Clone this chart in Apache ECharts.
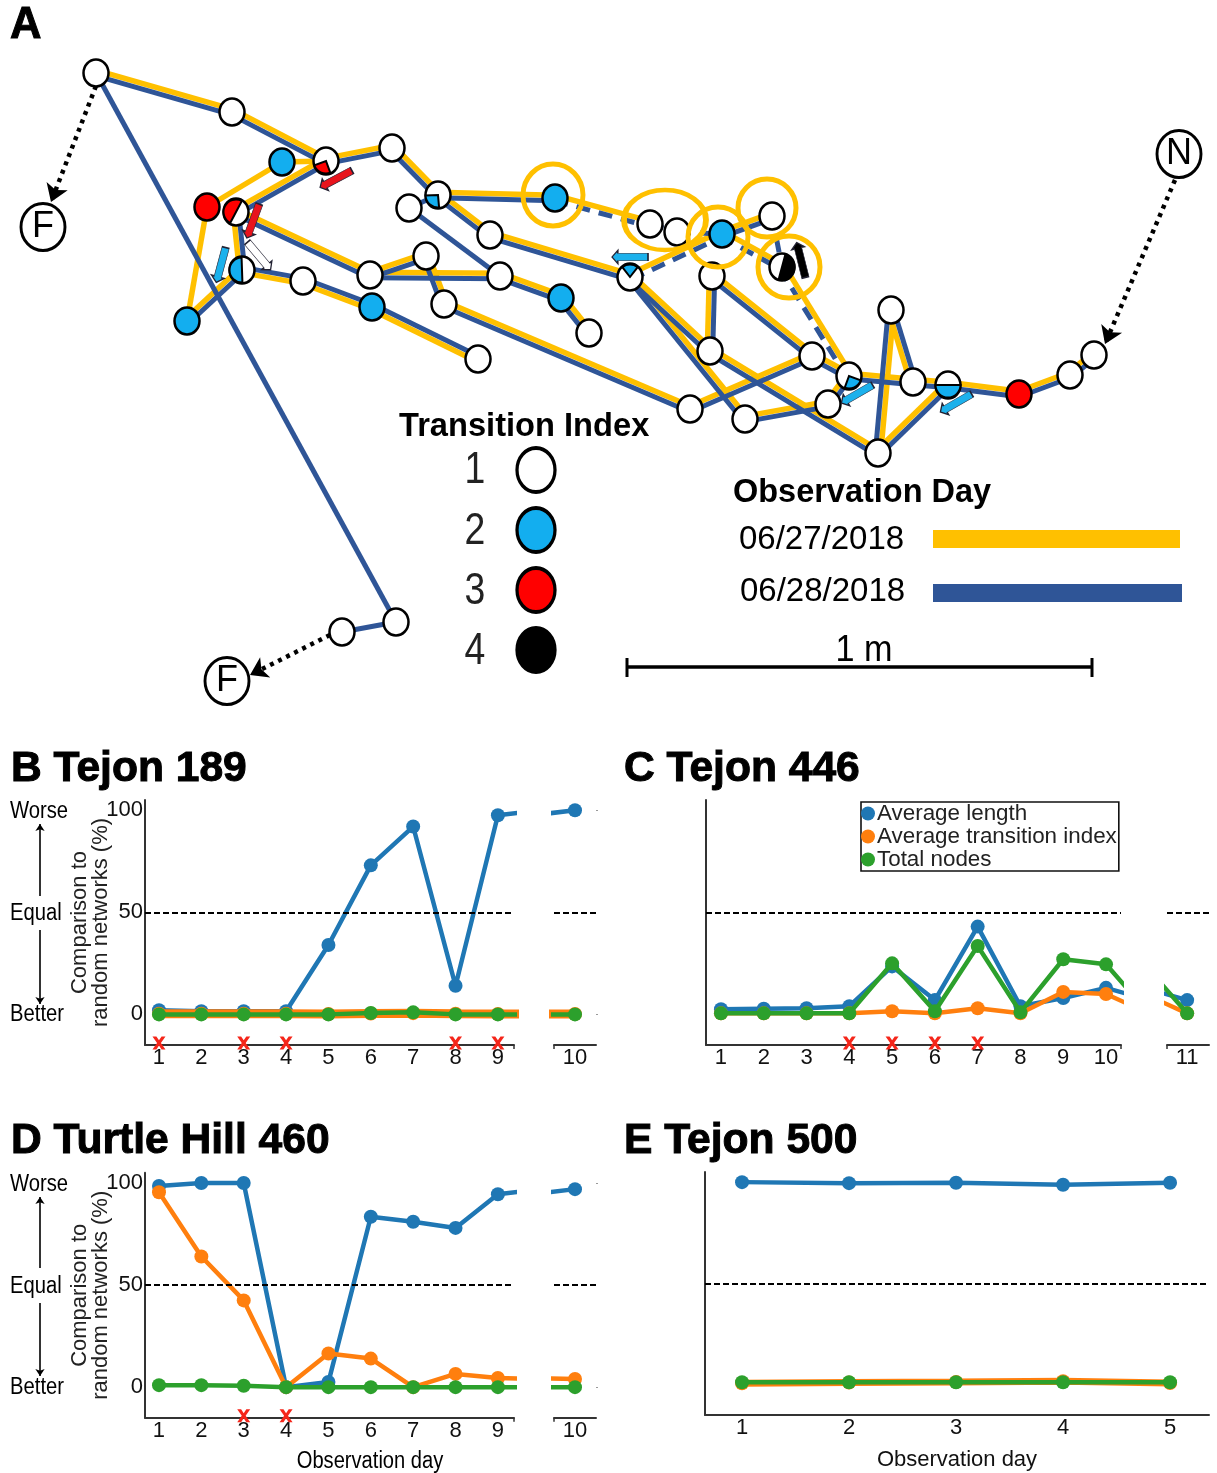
<!DOCTYPE html>
<html><head><meta charset="utf-8">
<style>html,body{margin:0;padding:0;background:#fff}#c{width:1217px;height:1473px}</style>
<script src="https://cdn.jsdelivr.net/npm/echarts@6/dist/echarts.min.js"></script>
</head><body><div id="c"></div>
<script>
// ---------- Panel A data: positions on the ground, read in picture units ----------
// kind: 1 white, 2 cyan, 3 red, 4 black
const nodes = [null,
 [96,73,1],[232,112,1],[326,161,1],[282,162,2],[392,148,1],[207,207,3],[236,212,1],[438,195,1],[409,208,1],
 [555,198,2],[490,235,1],[650,224,1],[677,232,1],[722,234,2],[772,216,1],[782,267,1],[242,270,1],[187,321,2],
 [303,281,1],[372,307,2],[370,275,1],[426,256,1],[500,276,1],[444,304,1],[561,298,2],[589,333,1],[478,359,1],
 [630,277,1],[712,276,1],[710,351,1],[812,356,1],[849,376,1],[828,404,1],[913,382,1],[948,385,1],[891,310,1],
 [878,453,1],[1019,394,3],[1070,375,1],[1094,355,1],[690,409,1],[745,419,1],[396,622,1],[342,632,1]];
const day1Edges = [[1,2],[2,3],[3,5],[4,3],[6,4],[18,6],[7,3],[17,7],[18,17],[19,17],[20,19],[27,20],[5,8],[8,10],[8,11],[11,28],
 [10,12],[7,21],[21,22],[21,23],[22,24],[23,25],[25,26],[24,41],[41,31],[29,31],[30,29],[28,30],[28,42],[30,37],[28,14],[14,15],
 [14,16],[16,32],[31,32],[42,33],[33,32],[32,34],[34,36],[36,37],[37,35],[34,35],[35,38],[38,39],[39,40]];
const day2Edges = [[1,2],[2,3],[3,5],[1,43],[43,44],[7,3],[17,7],[18,17],[19,17],[20,19],[27,20],[5,8],[8,10],[8,9],[9,23],[8,11],[11,28],
 [7,21],[21,22],[21,23],[22,24],[23,25],[25,26],[24,41],[41,31],[29,31],[30,29],[28,30],[28,42],[30,37],[31,32],[42,33],[33,32],[32,34],
 [34,36],[36,37],[37,35],[34,35],[35,38],[38,39],[39,40],[14,15]];
const day2DashedEdges = [[10,12],[12,13],[13,14],[28,14],[14,16],[15,16],[16,32]];
// node, start angle, end angle (degrees clockwise from east), kind of the filled share
const nodeShares = [[3,70,160,3],[7,118,298,3],[8,85,178,2],[17,88,268,2],[28,232,308,2],[16,-75,105,4],[32,20,110,2],[35,0,180,2]];
const rings = [[553,195,60,62],[665,220,82,60],[718,237,60,60],[767,208,58,58],[789,267,62,62]];
const movementArrows = [[336,179,152,'#e8141c'],[253,221,110,'#e8141c'],[259,256,50,'#ffffff'],[221,265,105,'#1cb1ec'],
 [630,257,180,'#1cb1ec'],[801,260,-104,'#000000'],[857,394,150,'#1cb1ec'],[956,403,150,'#1cb1ec']];
const dottedArrows = [[[96,86],[51,202]],[[330,635],[250,675]],[[1175,180],[1105,344]]];
const endpoints = [[43,227,'F'],[227,681,'F'],[1179,154,'N']];
const legendNodes = [[536,470,1],[536,530,2],[536,590,3],[536,650,4]];
const sideArrows=[[[40,896],[40,824]],[[40,930],[40,1004]],[[40,1268],[40,1197]],[[40,1303],[40,1376]]];

// ---------- Panels B-E data ----------
const seriesNames = ['Average length','Average transition index','Total nodes'];
const seriesColors = ['#1f77b4','#ff7f0e','#2ca02c'];
const daysB = [1,2,3,4,5,6,7,8,9,10];
const lengthB = [2,1.5,1.5,1.5,34,73,92,14,97.5,100];
const transitionB = [0.3,0.3,0.3,0.3,0.2,0.4,0.6,0.3,0.2,0.2];
const nodesB = [0,0,0,0,0,0.7,1,0,0,0];
const flagsB = [1,3,4,8,9];
const daysC = [1,2,3,4,5,6,7,8,9,10,11];
const lengthC = [2.5,2.8,3,4,23.5,7,43,4,8,13,7];
const transitionC = [0.5,0.5,0.5,0.5,1.5,0.5,3,0.5,11,10,0.5];
const nodesC = [0.5,0.5,0.5,0.5,25,1.5,33.5,1,27,24.5,0.5];
const flagsC = [4,5,6,7];
const daysD = [1,2,3,4,5,6,7,8,9,10];
const lengthD = [98.5,100,100,0,2.5,83.5,81,78,94.5,97];
const transitionD = [95.5,64,42.5,0,16.5,14,0,6.5,4.5,4];
const nodesD = [1,1,0.7,0,0,0,0,0,0,0];
const flagsD = [3,4];
const daysE = [1,2,3,4,5];
const lengthE = [100,99.5,99.7,98.7,99.7];
const transitionE = [0.7,1,1.3,1.7,0.8];
const nodesE = [1.2,1.2,1.2,1.2,1.2];
const yTicks = [0,50,100];

const kindColor = {1:'#ffffff',2:'#13aeef',3:'#ff0000',4:'#000000'};
const BLUE='#2f5597', YEL='#ffc000';
const sans="'Liberation Sans',Arial,sans-serif";

function hasEdge(list,e){return list.some(p=>p[0]===e[0]&&p[1]===e[1]);}
function edgeLine(e,side,other){
  const a=nodes[e[0]],b=nodes[e[1]];
  let ox=0,oy=0;
  if(hasEdge(other,e)){const dx=b[0]-a[0],dy=b[1]-a[1],l=Math.hypot(dx,dy);ox=dy/l*side*2.7;oy=-dx/l*side*2.7;}
  return {coords:[[a[0]+ox,a[1]+oy],[b[0]+ox,b[1]+oy]]};
}
const arrowPath='path://M0,50 L16,20 L16,33 L100,33 L100,67 L16,67 L16,80 Z';

const grids=[{left:0,top:0,width:1217,height:1473}];
const xAxes=[{gridIndex:0,type:'value',min:0,max:1217,show:false}];
const yAxes=[{gridIndex:0,type:'value',min:0,max:1473,inverse:true,show:false}];
const series=[];
const allDay2=day2Edges.concat(day2DashedEdges);
series.push({type:'lines',coordinateSystem:'cartesian2d',xAxisIndex:0,yAxisIndex:0,z:2,lineStyle:{color:YEL,width:5.5,opacity:1},
  data:day1Edges.map(e=>edgeLine(e,1,allDay2))});
series.push({type:'lines',coordinateSystem:'cartesian2d',xAxisIndex:0,yAxisIndex:0,z:3,lineStyle:{color:BLUE,width:5,opacity:1},
  data:day2Edges.map(e=>edgeLine(e,-1,day1Edges))});
series.push({type:'lines',coordinateSystem:'cartesian2d',xAxisIndex:0,yAxisIndex:0,z:3,lineStyle:{color:BLUE,width:5,type:[14,9],opacity:1},
  data:day2DashedEdges.map(e=>edgeLine(e,-1,day1Edges))});
series.push({type:'lines',coordinateSystem:'cartesian2d',xAxisIndex:0,yAxisIndex:0,z:5,symbol:['none','arrow'],symbolSize:17,
  lineStyle:{color:'#000',width:4.5,type:[4,5],opacity:1},data:dottedArrows.map(c=>({coords:c}))});
series.push({type:'scatter',xAxisIndex:0,yAxisIndex:0,z:6,symbol:'circle',symbolSize:[25,27],
  itemStyle:{borderColor:'#000',borderWidth:2.6,opacity:1,color:p=>kindColor[p.data[2]]},
  data:nodes.slice(1)});
series.push({type:'custom',xAxisIndex:0,yAxisIndex:0,z:7,clip:false,
  data:nodeShares.map(s=>[nodes[s[0]][0],nodes[s[0]][1],s[1],s[2],s[3]]),
  encode:{x:0,y:1},
  renderItem:(p,api)=>{
    const c=api.coord([api.value(0),api.value(1)]);
    return {type:'sector',shape:{cx:c[0],cy:c[1],r:12.5,r0:0,startAngle:api.value(2)*Math.PI/180,endAngle:api.value(3)*Math.PI/180,clockwise:true},
      style:{fill:kindColor[api.value(4)],stroke:'#000',lineWidth:2}};
  }});
series.push({type:'scatter',xAxisIndex:0,yAxisIndex:0,z:8,symbol:'circle',
  symbolSize:p=>[p[2],p[3]],itemStyle:{color:'rgba(0,0,0,0)',borderColor:YEL,borderWidth:5,opacity:1},data:rings});
series.push({type:'scatter',xAxisIndex:0,yAxisIndex:0,z:9,symbol:arrowPath,symbolKeepAspect:false,symbolSize:[36,13],
  symbolRotate:p=>-p[2]+180,
  itemStyle:{color:p=>p.data[3],borderColor:'#223',borderWidth:1,opacity:1},data:movementArrows});
series.push({type:'scatter',xAxisIndex:0,yAxisIndex:0,z:6,symbol:'circle',symbolSize:[44,47],
  itemStyle:{color:'#fff',borderColor:'#000',borderWidth:3,opacity:1},
  label:{show:true,position:'inside',formatter:p=>p.data[2],color:'#000',fontFamily:sans,fontSize:36},
  data:endpoints});
series.push({type:'scatter',xAxisIndex:0,yAxisIndex:0,z:6,symbol:'circle',symbolSize:[38,44],
  itemStyle:{borderColor:'#000',borderWidth:3.5,opacity:1,color:p=>kindColor[p.data[2]]},data:legendNodes});
series.push({type:'lines',coordinateSystem:'cartesian2d',xAxisIndex:0,yAxisIndex:0,z:5,symbol:['none','arrow'],symbolSize:7,
  lineStyle:{color:'#000',width:1.6,opacity:1},data:sideArrows.map(c=>({coords:c}))});

function addPanel(p){
  p.segs.forEach((s,si)=>{
    const gi=grids.length;
    grids.push({left:s.l,top:p.top,width:s.r-s.l,height:p.h});
    xAxes.push({gridIndex:gi,type:'value',min:s.min,max:s.max,
      axisLine:{show:true,onZero:false,lineStyle:{color:'#333',width:2}},
      axisTick:{show:!!p.broken,length:4,customValues:si===0?[s.max]:[s.min],lineStyle:{color:'#333',width:1.5}},
      splitLine:{show:false},
      axisLabel:{customValues:s.ticks,color:'#111',fontFamily:sans,fontSize:22,margin:2,hideOverlap:false},
      ...(p.xName?{name:p.xName,nameLocation:'middle',nameGap:34,nameMoveOverlap:false,nameTextStyle:{fontFamily:sans,fontSize:22,color:'#111'}}:{})});
    const y={gridIndex:gi,type:'value',min:p.ymin,max:p.ymax,splitLine:{show:false},position:si===0?'left':'right',
      axisLine:{show:si===0,onZero:false,lineStyle:{color:'#333',width:2}},
      axisTick:{show:false},axisLabel:{show:false}};
    if(si===0&&p.yLabels){
      y.axisLabel={show:true,customValues:yTicks,color:'#111',fontFamily:sans,fontSize:22,margin:2};
      y.name='Comparison to\nrandom networks (%)';y.nameLocation='middle';y.nameMoveOverlap=false;
      y.nameGap=34;y.nameRotate=90;y.nameTextStyle={fontFamily:sans,fontSize:22,lineHeight:21,color:'#222'};
    }
    if(si===1&&p.yLabels){y.axisTick={show:true,length:2,customValues:[0,100],lineStyle:{color:'#999',width:1}};}
    yAxes.push(y);
    const markLine={silent:true,symbol:'none',label:{show:false},animation:false,
      lineStyle:{color:'#000',type:[6,3],width:2},data:[{yAxis:50}]};
    p.vals.forEach((v,i)=>{
      series.push({name:seriesNames[i],type:'line',xAxisIndex:gi,yAxisIndex:gi,z:3+i,clip:true,
        data:p.days.map((d,k)=>[d,v[k]]),symbol:'circle',symbolSize:14,showSymbol:true,showAllSymbol:true,
        color:seriesColors[i],lineStyle:{color:seriesColors[i],width:(p.widths||[])[i]||4.5},
        itemStyle:{color:seriesColors[i]},
        ...(i===0?{markLine}:{})});
    });
    if(si===0&&p.flags){
      series.push({type:'scatter',xAxisIndex:gi,yAxisIndex:gi,z:9,clip:false,
        symbol:'path://M0,0L3,0L5,3L7,0L10,0L6.5,5L10,10L7,10L5,7L3,10L0,10L3.5,5Z',symbolSize:13,
        itemStyle:{color:'#f5261a',opacity:1},data:p.flags.map(d=>[d,-14])});
    }
  });
}
addPanel({top:800,h:245,ymin:-15,ymax:105,yLabels:true,broken:true,days:daysB,flags:flagsB,widths:[4.5,9,4.5],
  vals:[lengthB,transitionB,nodesB],
  segs:[{l:145,r:514,min:0.67,max:9.38,ticks:daysB.slice(0,9)},{l:554,r:596,min:9.5,max:10.5,ticks:[10]}]});
addPanel({top:800,h:245,ymin:-15,ymax:105,broken:true,days:daysC,flags:flagsC,
  vals:[lengthC,transitionC,nodesC],
  segs:[{l:706,r:1121,min:0.65,max:10.35,ticks:daysC.slice(0,10)},{l:1167,r:1209,min:10.53,max:11.51,ticks:[11]}]});
addPanel({top:1172.8,h:245,ymin:-15,ymax:105,yLabels:true,broken:true,days:daysD,flags:flagsD,
  vals:[lengthD,transitionD,nodesD],
  segs:[{l:145,r:514,min:0.67,max:9.38,ticks:daysD.slice(0,9)},{l:554,r:596,min:9.5,max:10.5,ticks:[10]}]});
addPanel({top:1172,h:243,ymin:-15,ymax:105,days:daysE,widths:[4.5,7,4.5],xName:'Observation day',
  vals:[lengthE,transitionE,nodesE],
  segs:[{l:705,r:1209,min:0.654,max:5.364,ticks:daysE}]});

function T(text,x,y,font,o={}){
  return {type:'text',x,y:y+2,z:20,scaleX:o.sx||1,scaleY:o.sy||1,style:{text,x:0,y:0,font,fill:o.fill||'#000',
    textAlign:o.align||'left',textVerticalAlign:'middle',stroke:o.stroke||null,lineWidth:o.lw||0}};
}
const bigBold=`bold 43px ${sans}`, hd={stroke:'#000',lw:1,sx:0.99};
const graphic=[
 T('A',10,24,`bold 44px ${sans}`,hd),
 T('B Tejon 189',11,767,bigBold,hd),
 T('C Tejon 446',624,767,bigBold,hd),
 T('D Turtle Hill 460',11,1139,bigBold,hd),
 T('E Tejon 500',624,1139,bigBold,hd),
 T('Transition Index',399,425,`bold 34px ${sans}`,{sx:0.96}),
 T('Observation Day',733,491,`bold 34px ${sans}`,{sx:0.955}),
 T('1',475,469,`44px ${sans}`,{align:'center',fill:'#222',sx:0.85}),
 T('2',475,530,`44px ${sans}`,{align:'center',fill:'#222',sx:0.85}),
 T('3',475,590,`44px ${sans}`,{align:'center',fill:'#222',sx:0.85}),
 T('4',475,650,`44px ${sans}`,{align:'center',fill:'#222',sx:0.85}),
 T('06/27/2018',739,538,`33px ${sans}`),
 T('06/28/2018',740,590,`33px ${sans}`),
 T('1 m',864,649,`36px ${sans}`,{align:'center',sx:0.95}),
 {type:'rect',z:20,shape:{x:933,y:530,width:247,height:18},style:{fill:YEL}},
 {type:'rect',z:20,shape:{x:933,y:584,width:249,height:18},style:{fill:BLUE}},
 {type:'line',z:20,shape:{x1:627,y1:667,x2:1092,y2:667},style:{stroke:'#000',lineWidth:3.5}},
 {type:'line',z:20,shape:{x1:627,y1:658,x2:627,y2:677},style:{stroke:'#000',lineWidth:3}},
 {type:'line',z:20,shape:{x1:1092,y1:658,x2:1092,y2:677},style:{stroke:'#000',lineWidth:3}},
 T('Observation day',370,1460,`23px ${sans}`,{align:'center',sx:0.875}),
];
[0,373].forEach(d=>{
 graphic.push(T('Worse',10,810+d,`23px ${sans}`,{sx:0.88}),T('Equal',10,912+d,`23px ${sans}`,{sx:0.88}),T('Better',10,1013+d,`23px ${sans}`,{sx:0.88}));
});

const chart=echarts.init(document.getElementById('c'),null,{renderer:'canvas'});
chart.setOption({animation:false,backgroundColor:'#fff',grid:grids,xAxis:xAxes,yAxis:yAxes,series,graphic,
  legend:{data:seriesNames,left:861,top:802,orient:'vertical',icon:'circle',itemWidth:14,itemHeight:14,itemGap:0,selectedMode:false,
    padding:[0,2,0,0],borderColor:'#111',borderWidth:1.6,borderRadius:0,
    textStyle:{fontFamily:sans,fontSize:22.4,lineHeight:23,color:'#222',padding:[0,0,0,-3]}}});
</script></body></html>
